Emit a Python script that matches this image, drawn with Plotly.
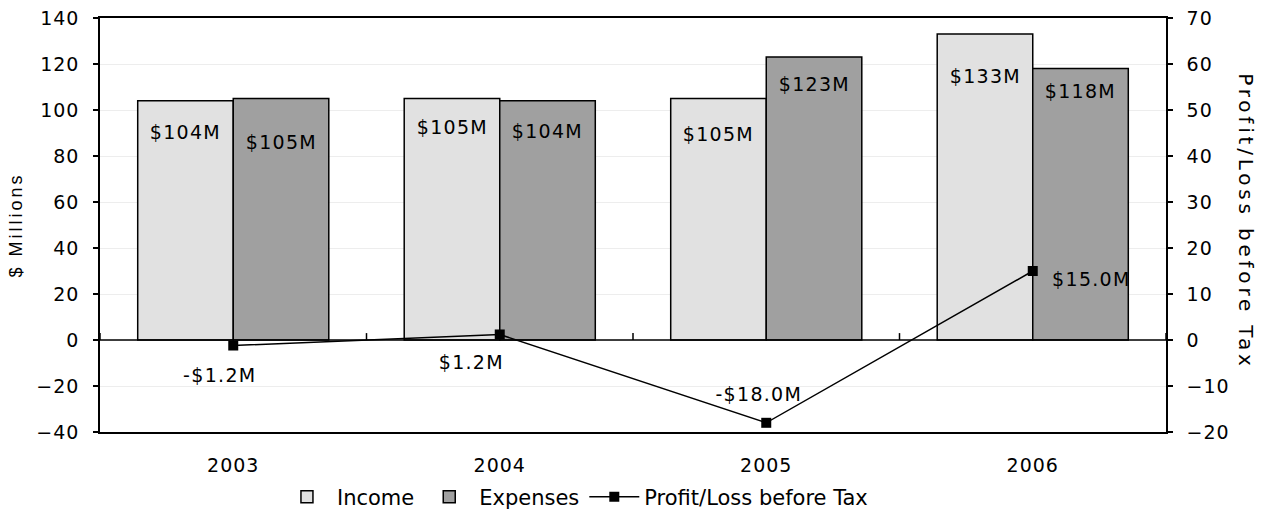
import plotly.graph_objects as go

# Annual figures, $ millions
years = ["2003", "2004", "2005", "2006"]
income = [104, 105, 105, 133]
expenses = [105, 104, 123, 118]
profit = [-1.2, 1.2, -18.0, 15.0]

income_labels = ["$104M", "$105M", "$105M", "$133M"]
expense_labels = ["$105M", "$104M", "$123M", "$118M"]
profit_labels = ["-$1.2M", "$1.2M", "-$18.0M", "$15.0M"]

FONT = "DejaVu Sans"
BLACK = "#000000"
INCOME_FILL = "#e1e1e1"
EXPENSE_FILL = "#a0a0a0"
RIGHT_TITLE = "Profit/Loss before Tax"

# Category slots on a numeric axis, labelled with the years
pos = list(range(len(years)))

fig = go.Figure()

fig.add_trace(go.Bar(
    x=pos, y=income, name="Income",
    marker=dict(color=INCOME_FILL, line=dict(color=BLACK, width=1.5)),
))
fig.add_trace(go.Bar(
    x=pos, y=expenses, name="Expenses",
    marker=dict(color=EXPENSE_FILL, line=dict(color=BLACK, width=1.5)),
))
fig.add_trace(go.Scatter(
    x=pos, y=profit, name="Profit/Loss before Tax", yaxis="y2",
    mode="lines+markers",
    line=dict(color=BLACK, width=1.5),
    marker=dict(symbol="square", size=10, color=BLACK),
))

# Value labels: placed just inside the top of each bar
bar_half = 47.75
inc_dy = [-31, -28, -35, -42]
exp_dy = [-43, -30, -27, -22]
for i, p in enumerate(pos):
    fig.add_annotation(x=p, y=income[i], yref="y", text=income_labels[i],
                       showarrow=False, xshift=-bar_half, yshift=inc_dy[i],
                       font=dict(family=FONT, size=19, color=BLACK))
    fig.add_annotation(x=p, y=expenses[i], yref="y", text=expense_labels[i],
                       showarrow=False, xshift=bar_half, yshift=exp_dy[i],
                       font=dict(family=FONT, size=19, color=BLACK))

# Profit labels beside the line markers
prof_dx = [-13, -28, -7, 59]
prof_dy = [-29, -28, 29, -8]
for i, p in enumerate(pos):
    fig.add_annotation(x=p, y=profit[i], yref="y2", text=profit_labels[i],
                       showarrow=False, xshift=prof_dx[i], yshift=prof_dy[i],
                       font=dict(family=FONT, size=19, color=BLACK))

# Category axis running along zero, with separator ticks between years
fig.add_shape(type="line", xref="paper", yref="y", x0=0, x1=1, y0=0, y1=0,
              line=dict(color=BLACK, width=1.5), layer="above")
for k in range(len(years) + 1):
    fig.add_shape(type="line", xref="x", yref="y", x0=k - 0.5, x1=k - 0.5,
                  y0=0, y1=3, line=dict(color=BLACK, width=1.5), layer="above")

# Right-hand axis title, reading downward
fig.add_annotation(xref="paper", yref="paper", x=1, y=0.5, xanchor="center",
                   yanchor="middle", xshift=80, yshift=4,
                   text=RIGHT_TITLE, textangle=90, showarrow=False,
                   font=dict(family=FONT, size=20, color=BLACK))

fig.update_layout(
    width=1264, height=515,
    margin=dict(l=100, r=98, t=18, b=83, autoexpand=False),
    paper_bgcolor="white", plot_bgcolor="white",
    font=dict(family=FONT, size=19, color=BLACK),
    barmode="group", bargap=0.283, bargroupgap=0,
    showlegend=True,
    legend=dict(orientation="h", x=0.166, xanchor="left", y=-0.157,
                yanchor="middle", font=dict(family=FONT, size=21),
                traceorder="normal", itemwidth=50, tracegroupgap=0),
    xaxis=dict(
        range=[-0.5, len(years) - 0.5], tickmode="array", tickvals=pos,
        ticktext=years, showline=True, linecolor=BLACK, linewidth=1.5,
        mirror=True, ticks="", showgrid=False, zeroline=False,
        ticklabelstandoff=15, tickfont=dict(family=FONT, size=19),
    ),
    yaxis=dict(
        range=[-40, 140], dtick=20, showline=True, linecolor=BLACK,
        linewidth=1.5, mirror=True, ticks="outside", ticklen=5,
        tickwidth=1.5, tickcolor=BLACK, showgrid=True, gridcolor="#ededed",
        gridwidth=1, zeroline=False, ticklabelstandoff=10,
        tickfont=dict(family=FONT, size=19),
        title=dict(text="$ Millions", standoff=12,
                   font=dict(family="Liberation Sans", size=18)),
    ),
    yaxis2=dict(
        overlaying="y", side="right", range=[-20, 70], dtick=10,
        showline=True, linecolor=BLACK, linewidth=1.5, ticks="outside",
        ticklen=5, tickwidth=1.5, tickcolor=BLACK, showgrid=False,
        zeroline=False, ticklabelstandoff=10,
        tickfont=dict(family=FONT, size=19),
    ),
)

# Slightly open letter spacing on the chart's texts
spacing_js = """
var gd = document.getElementById('{plot_id}');
function sp(sel, v) {
  gd.querySelectorAll(sel).forEach(function (t) { t.style.letterSpacing = v; });
}
sp('.xtick text, .ytick text, .y2tick text', '1px');
sp('.annotation-text', '1.3px');
sp('.ytitle', '3px');
gd.querySelectorAll('.annotation-text').forEach(function (t) {
  if (t.textContent === '%s') { t.style.letterSpacing = '3.8px'; }
});
""" % RIGHT_TITLE

fig.write_html("out.html", post_script=spacing_js)
